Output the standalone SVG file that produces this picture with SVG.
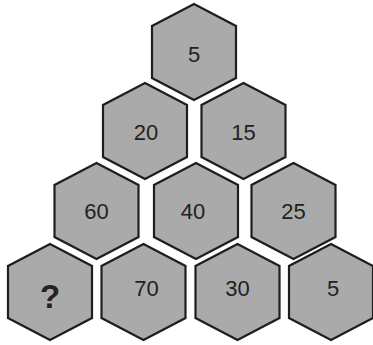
<svg xmlns="http://www.w3.org/2000/svg" width="373" height="345" viewBox="0 0 373 345">
<defs>
<style>
.hex{fill:#aaaaaa;stroke:#1e1e1e;stroke-width:2.2;stroke-linejoin:miter}
.lbl{font-family:"Liberation Sans",Arial,sans-serif;font-size:22px;fill:#222;text-anchor:middle;dominant-baseline:central}
.q{font-family:"Liberation Sans",Arial,sans-serif;font-size:33px;font-weight:bold;fill:#222;text-anchor:middle;dominant-baseline:central}
</style>
<polygon id="h" class="hex" points="0,-48 42,-26 42,26 0,48 -42,26 -42,-26"/>
</defs>
<rect width="373" height="345" fill="#ffffff"/>
<g id="connectors"></g>
<g id="n1" transform="translate(194,52)"><use href="#h"/><text class="lbl" x="0" y="2">5</text></g>
<g id="n2" transform="translate(145,131)"><use href="#h"/><text class="lbl" x="1" y="1">20</text></g>
<g id="n3" transform="translate(243.5,131)"><use href="#h"/><text class="lbl" x="0" y="1">15</text></g>
<g id="n4" transform="translate(96.5,211)"><use href="#h"/><text class="lbl" x="0" y="0">60</text></g>
<g id="n5" transform="translate(196,211)"><use href="#h"/><text class="lbl" x="-3" y="0">40</text></g>
<g id="n6" transform="translate(293.5,211)"><use href="#h"/><text class="lbl" x="0" y="0">25</text></g>
<g id="n7" transform="translate(50,292)"><use href="#h"/><text class="q" x="0" y="4">?</text></g>
<g id="n8" transform="translate(143.5,292)"><use href="#h"/><text class="lbl" x="3" y="-4">70</text></g>
<g id="n9" transform="translate(237.5,292)"><use href="#h"/><text class="lbl" x="0" y="-4">30</text></g>
<g id="n10" transform="translate(331,292)"><use href="#h"/><text class="lbl" x="2" y="-4">5</text></g>
</svg>
